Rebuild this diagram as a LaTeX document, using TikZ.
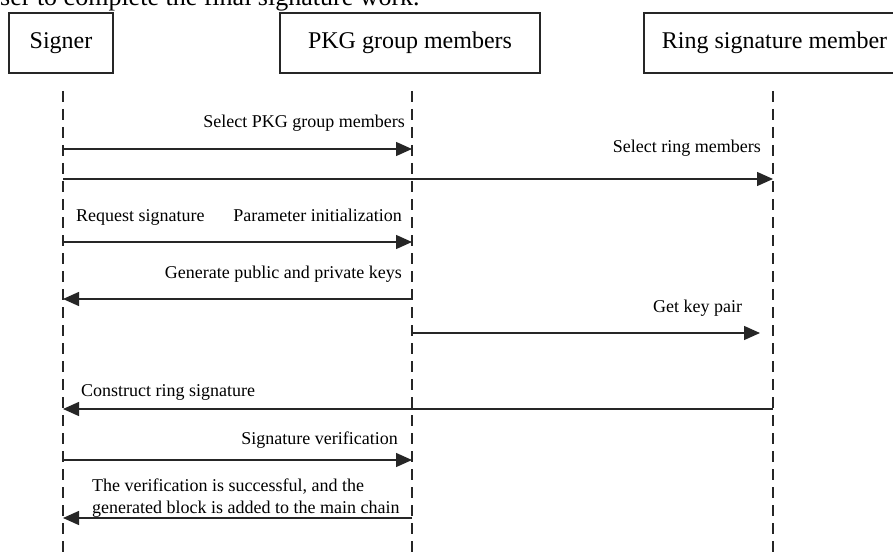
\documentclass[tikz,border=0pt]{standalone}
\usepackage{fontspec}
\setmainfont{Liberation Serif}
\usetikzlibrary{arrows.meta}
\begin{document}
\begin{tikzpicture}[x=1pt,y=-1pt,
  actor/.style={draw=black!85, line width=1.1pt, minimum height=60pt, inner sep=0pt, font=\fontsize{24}{28}\selectfont},
  life/.style={draw=black!85, line width=1.2pt, dash pattern=on 11pt off 7pt},
  msg/.style={draw=black!85, line width=1.4pt, -{Triangle[length=16pt,width=14pt]}},
  lbl/.style={font=\fontsize{18}{22}\selectfont, inner sep=0pt, text=black},
]
\useasboundingbox (0,0) rectangle (893,556);
\clip (0,0) rectangle (893,556);

% caption fragment at top
\node[anchor=base west, inner sep=0pt, font=\fontsize{26}{30}\selectfont] (cap) at (0,6) {ser to complete the final signature work.};

% actors
\node[actor, minimum width=104pt] (signer) at (61,43) {Signer};
\node[actor, minimum width=260pt] (pkg) at (410,43) {PKG group members};
\node[actor, minimum width=261pt] (ring) at (774.5,43) {Ring signature member};

% lifelines
\coordinate (sT) at (63,91);  \coordinate (sB) at (63,560);
\coordinate (pT) at (412,91); \coordinate (pB) at (412,560);
\coordinate (rT) at (773,91); \coordinate (rB) at (773,560);
\draw[life] (sT) -- (sB);
\draw[life] (pT) -- (pB);
\draw[life] (rT) -- (rB);

% message end points
\coordinate (s1) at (63,149);  \coordinate (p1) at (412,149);
\coordinate (s2) at (63,179);  \coordinate (r2) at (773,179);
\coordinate (s3) at (63,242);  \coordinate (p3) at (412,242);
\coordinate (s4) at (63,299);  \coordinate (p4) at (412,299);
\coordinate (p5) at (412,333); \coordinate (r5) at (760,333);
\coordinate (s6) at (63,409);  \coordinate (r6) at (773,409);
\coordinate (s7) at (63,460);  \coordinate (p7) at (412,460);
\coordinate (s8) at (63,518);  \coordinate (p8) at (412,518);

% messages
\draw[msg] (s1) -- (p1);
\draw[msg] (s2) -- (r2);
\draw[msg] (s3) -- (p3);
\draw[msg] (p4) -- (s4);
\draw[msg] (p5) -- (r5);
\draw[msg] (r6) -- (s6);
\draw[msg] (s7) -- (p7);
\draw[msg] (p8) -- (s8);

% labels
\node[lbl, anchor=base east] (l1) at (405,128) {Select PKG group members};
\node[lbl, anchor=base east] (l2) at (761,153) {Select ring members};
\node[lbl, anchor=base west] (l3a) at (76,221) {Request signature};
\node[lbl, anchor=base east] (l3b) at (402,221) {Parameter initialization};
\node[lbl, anchor=base east] (l4) at (402,278) {Generate public and private keys};
\node[lbl, anchor=base west] (l5) at (653,312) {Get key pair};
\node[lbl, anchor=base west] (l6) at (81,396) {Construct ring signature};
\node[lbl, anchor=base east] (l7) at (398,444) {Signature verification};
\node[lbl, anchor=north west, align=left] (l8) at (92,478.5) {The verification is successful, and the\\generated block is added to the main chain};
\end{tikzpicture}
\end{document}
